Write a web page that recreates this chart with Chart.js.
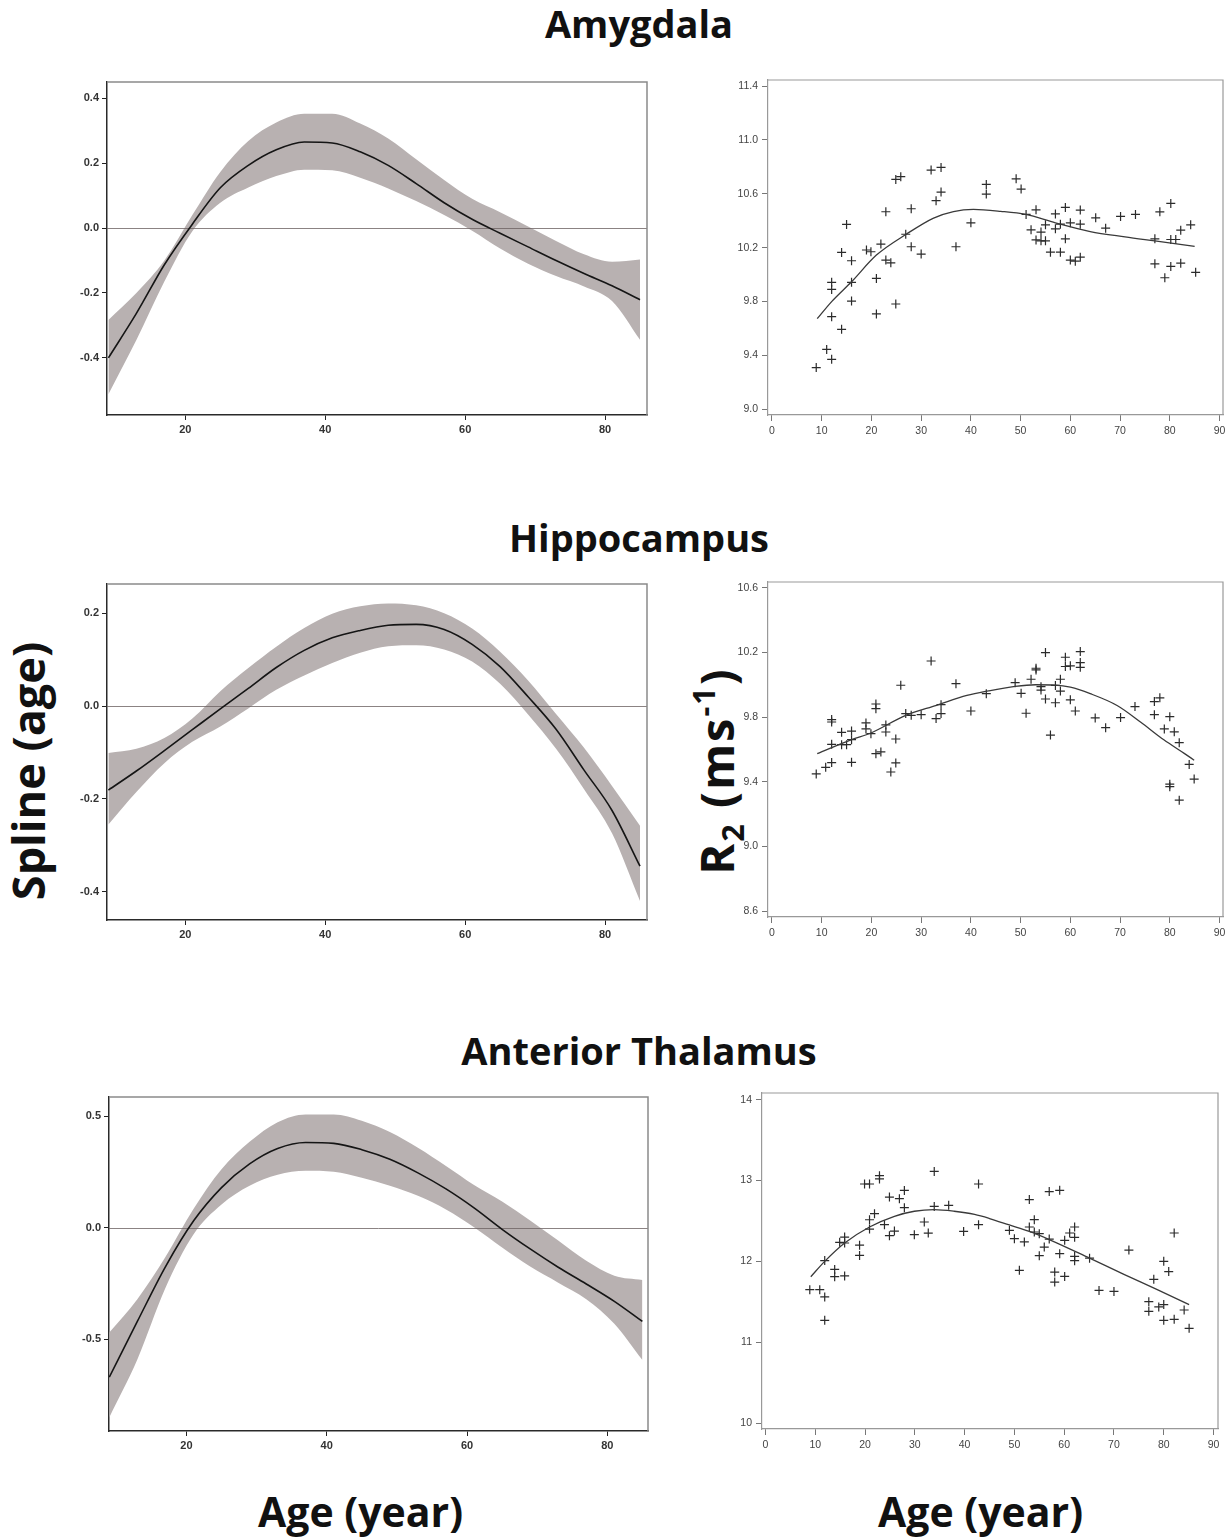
<!DOCTYPE html>
<html><head><meta charset="utf-8">
<script src="https://cdn.jsdelivr.net/npm/chart.js@4.4.1/dist/chart.umd.min.js"></script>
<style>
html,body{margin:0;padding:0;background:#fff;}
body{width:1230px;height:1538px;position:relative;overflow:hidden;font-family:"Open Sans",sans-serif;color:#111;}
.ttl{position:absolute;left:24px;width:1230px;text-align:center;font-weight:700;font-size:38px;line-height:1;white-space:nowrap;}
.big{position:absolute;font-weight:700;font-size:41px;line-height:1;white-space:nowrap;}
.rot{position:absolute;font-weight:700;line-height:1;white-space:nowrap;transform:translate(-50%,-50%) rotate(-90deg);}
canvas{position:absolute;}
</style></head>
<body>
<div class="ttl" style="top:4px">Amygdala</div>
<div class="ttl" style="top:518px">Hippocampus</div>
<div class="ttl" style="top:1031px">Anterior Thalamus</div>
<div class="rot" style="left:27px;top:771px;font-size:45px">Spline (age)</div>
<div class="rot" style="left:716px;top:771px;font-size:47px;letter-spacing:2px">R<span style="font-size:0.65em;position:relative;top:0.32em">2</span> (ms<span style="font-size:0.65em;position:relative;top:-0.62em">-1</span>)</div>
<div class="big" style="left:258px;top:1491px">Age (year)</div>
<div class="big" style="left:878px;top:1491px">Age (year)</div>
<script>
// ---------- DATA ----------
const splineAges = [9,13,17,21,25,29,33,37,41,45,49,53,57,61,65,69,73,77,81,85];
const splineXTicks = [20,40,60,80];

const amySplineFit   = [-0.40,-0.263,-0.113,0.012,0.124,0.193,0.241,0.265,0.262,0.235,0.193,0.137,0.078,0.027,-0.016,-0.058,-0.100,-0.140,-0.178,-0.221];
const amySplineUpper = [-0.283,-0.200,-0.100,0.040,0.173,0.268,0.325,0.352,0.352,0.322,0.276,0.212,0.148,0.090,0.049,0.005,-0.040,-0.081,-0.104,-0.097];
const amySplineLower = [-0.512,-0.345,-0.165,-0.010,0.078,0.125,0.160,0.180,0.178,0.155,0.122,0.083,0.040,-0.008,-0.063,-0.110,-0.148,-0.180,-0.225,-0.344];
const amySplineYTicks = [-0.4,-0.2,0.0,0.2,0.4];

const hipSplineFit   = [-0.181,-0.140,-0.096,-0.051,-0.006,0.038,0.083,0.120,0.147,0.163,0.174,0.176,0.165,0.133,0.085,0.020,-0.050,-0.138,-0.225,-0.345];
const hipSplineUpper = [-0.101,-0.092,-0.069,-0.027,0.032,0.082,0.128,0.168,0.199,0.215,0.221,0.217,0.200,0.167,0.117,0.055,-0.017,-0.090,-0.172,-0.258];
const hipSplineLower = [-0.255,-0.185,-0.123,-0.077,-0.044,-0.005,0.035,0.066,0.093,0.115,0.129,0.131,0.122,0.096,0.048,-0.018,-0.092,-0.179,-0.274,-0.420];
const hipSplineYTicks = [-0.4,-0.2,0.0,0.2];

const thaSplineFit   = [-0.67,-0.42,-0.175,0.030,0.180,0.286,0.355,0.382,0.378,0.350,0.307,0.246,0.174,0.089,-0.007,-0.095,-0.177,-0.252,-0.330,-0.420];
const thaSplineUpper = [-0.47,-0.32,-0.131,0.084,0.262,0.385,0.473,0.508,0.508,0.480,0.429,0.359,0.277,0.192,0.118,0.033,-0.057,-0.148,-0.215,-0.234];
const thaSplineLower = [-0.85,-0.59,-0.270,-0.030,0.104,0.188,0.237,0.255,0.251,0.224,0.188,0.143,0.082,0.002,-0.089,-0.174,-0.246,-0.320,-0.430,-0.593];
const thaSplineYTicks = [-0.5,0.0,0.5];

const r2XTicks = [0,10,20,30,40,50,60,70,80,90];

const amyAge = [8.9,11,12,12,12,12,14,14,15,16,16,16,19,19.9,21,21,21.9,22.9,22.9,23.9,24.9,24.9,25.9,26.9,28,28,30,32,33,34,34,37,40,43.1,43.1,
  49.1,50.1,51.1,53.1,52.1,53.1,54.1,54.1,55,55,56,57,57,58,58,59,59,60,60,61,62,62,62,65.1,67.1,70.1,73.1,77,77,78,79,80.2,80.2,81.2,80.2,82.2,82.2,84.2,85.2];
const amyR2 = [9.31,9.445,9.371,9.688,9.89,9.943,9.594,10.165,10.373,9.804,9.943,10.103,10.183,10.17,9.972,9.708,10.227,10.467,10.108,10.088,9.782,10.707,10.727,10.30,10.489,10.207,10.153,10.776,10.549,10.613,10.796,10.207,10.385,10.67,10.598,
  10.711,10.635,10.447,10.481,10.333,10.258,10.316,10.251,10.251,10.37,10.167,10.451,10.34,10.375,10.167,10.499,10.266,10.385,10.108,10.10,10.13,10.479,10.375,10.422,10.345,10.432,10.447,10.266,10.08,10.466,9.977,10.529,10.261,10.261,10.061,10.085,10.33,10.37,10.017];
const amyFitAge = [9.1,12,16,21,27,32.5,36.5,40.5,46,51,57,64,71,77,85];
const amyFitR2  = [9.673,9.80,9.947,10.145,10.30,10.42,10.468,10.484,10.47,10.447,10.385,10.32,10.28,10.25,10.21];
const amyR2YTicks = [9.0,9.4,9.8,10.2,10.6,11.0,11.4];

const hipAge = [8.9,10.8,12,12,12,12,14,14,15,16,16,16,18.9,18.9,19.9,20.9,20.9,20.9,21.9,22.9,22.9,23.9,24.9,24.9,25.9,26.9,28,30,32,33,34,34,37,40,43.1,
  48.9,50.1,51.1,52.1,53.1,53.1,54.1,54.1,55,55,56,57,57,58,58,59,59,60,60,61,62,62,62,65,67.1,70.1,73,76.9,76.9,78,78.9,80,80,80,80.9,81.9,81.9,83.9,84.9];
const hipR2 = [9.449,9.49,9.519,9.632,9.785,9.77,9.706,9.63,9.63,9.521,9.661,9.714,9.764,9.727,9.698,9.574,9.852,9.881,9.585,9.708,9.752,9.461,9.517,9.665,9.997,9.822,9.811,9.815,10.147,9.791,9.822,9.877,10.007,9.838,9.945,
  10.013,9.947,9.824,10.034,10.102,10.092,9.988,9.967,10.199,9.912,9.689,9.889,9.996,10.034,9.961,10.17,10.113,10.117,9.907,9.838,10.205,10.137,10.108,9.795,9.735,9.797,9.865,9.896,9.815,9.919,9.727,9.803,9.386,9.37,9.709,9.642,9.287,9.508,9.417];
const hipFitAge = [9.1,16,19.9,26.9,33.1,39.2,43.5,48.9,53,57,60,64,69.4,74.1,78.8,82.9,84.9];
const hipFitR2  = [9.574,9.661,9.702,9.811,9.873,9.934,9.962,9.99,10.0,9.998,9.985,9.945,9.872,9.77,9.66,9.576,9.534];
const hipR2YTicks = [8.6,9.0,9.4,9.8,10.2,10.6];

const thaAge = [8.9,10.9,11.9,11.9,11.9,13.9,13.9,14.9,15.9,15.9,15.9,18.9,18.9,19.9,20.9,20.9,20.9,21.9,22.9,22.9,23.9,24.9,24.9,25.9,26.9,27.9,27.9,29.9,31.9,32.7,33.9,33.9,36.8,39.8,42.8,42.8,
  49,50,51,52,53,53,54,54,55,55,56,57,57,58.1,58.1,59.1,59.1,60.1,60.1,61.1,62.1,62.1,62.1,62.1,65.1,67,70,73,77,77,78,79,80,80,80,81,82.1,82.1,84.1,85.1];
const thaR2 = [11.65,11.65,12.01,11.56,11.27,11.90,11.81,12.235,12.30,12.227,11.82,12.20,12.074,12.957,12.957,12.40,12.515,12.59,13.06,13.02,12.454,12.796,12.318,12.375,12.775,12.878,12.664,12.33,12.487,12.35,13.113,12.68,12.693,12.371,12.957,12.454,
  12.384,12.281,11.889,12.24,12.764,12.425,12.516,12.363,12.342,12.07,12.177,12.863,12.276,11.868,11.744,12.879,12.095,12.26,11.814,12.351,12.425,12.297,12.062,12.008,12.04,11.641,11.628,12.14,11.501,11.382,11.778,11.436,11.465,12.0,11.271,11.874,11.283,12.351,11.398,11.172];
const thaFitAge = [9.1,11.9,15.9,20.9,25.9,29.9,33.9,37.9,42,45,49,53,57,65.1,72,78.7,85.1];
const thaFitR2  = [11.81,12.0,12.227,12.425,12.557,12.62,12.64,12.62,12.58,12.53,12.45,12.37,12.27,12.04,11.84,11.65,11.465];
const thaR2YTicks = [10,11,12,13,14];

// ---------- RENDERING ----------
const PL = 62, PT = 12, PR = 12, PB = 40;
const BAND = 'rgb(184,177,177)';
const pts = (xs, ys) => xs.map((x, i) => ({x: x, y: ys[i]}));

const framePlugin = {
  id: 'frame',
  afterDatasetsDraw(chart, args, o) {
    const ctx = chart.ctx, a = chart.chartArea;
    ctx.save();
    ctx.strokeStyle = o.color; ctx.lineWidth = o.width;
    ctx.beginPath();
    ctx.moveTo(a.left, a.top); ctx.lineTo(a.right, a.top); ctx.lineTo(a.right, a.bottom);
    ctx.stroke();
    ctx.restore();
  },
  beforeDatasetDraw(chart, args, o) {
    // reference line at y = 0, drawn just before the fitted curve (dataset 0)
    if (!o.zero || args.index !== 0) return;
    const ctx = chart.ctx, a = chart.chartArea;
    const y = Math.round(chart.scales.y.getPixelForValue(0)) + 0.5;
    ctx.save();
    ctx.strokeStyle = o.zeroColor; ctx.lineWidth = 1;
    ctx.beginPath(); ctx.moveTo(a.left, y); ctx.lineTo(a.right, y); ctx.stroke();
    ctx.restore();
  }
};

function makeCanvas(box) {
  const W = box.r - box.l + PL + PR, H = box.b - box.t + PT + PB;
  const c = document.createElement('canvas');
  c.width = W; c.height = H;
  c.style.left = (box.l - PL) + 'px'; c.style.top = (box.t - PT) + 'px';
  c.style.width = W + 'px'; c.style.height = H + 'px';
  document.body.appendChild(c);
  return c;
}

function axis(min, max, tickVals, fmt, isX, st) {
  return {
    type: 'linear', min: min, max: max,
    afterFit(s) { if (isX) s.height = PB; else s.width = PL; },
    afterBuildTicks(s) { s.ticks = tickVals.map(v => ({value: v})); },
    grid: {drawOnChartArea: false, drawTicks: true, tickLength: st.tickLen, color: st.tickColor, lineWidth: 1},
    border: {display: true, color: st.axisColor, width: st.axisWidth},
    ticks: {autoSkip: false, maxRotation: 0, padding: st.pad, color: st.labelColor,
            font: {family: 'Liberation Sans, Arial, sans-serif', size: st.fontSize, weight: st.weight},
            callback: v => fmt(v)}
  };
}

const splineStyle = {tickLen: 5, tickColor: '#222', axisColor: '#2a2a2a', axisWidth: 1.5, pad: 3, labelColor: '#333', fontSize: 11, weight: 'bold'};
const scatStyle   = {tickLen: 6, tickColor: '#777', axisColor: '#999', axisWidth: 1.2, pad: 4, labelColor: '#444', fontSize: 10.5, weight: 'normal'};

function splinePanel(box, xr, yr, yTicks, fit, up, lo) {
  new Chart(makeCanvas(box), {
    type: 'line',
    data: {datasets: [
      {data: pts(splineAges, fit), borderColor: '#151515', borderWidth: 1.6, pointRadius: 0, fill: false, cubicInterpolationMode: 'monotone'},
      {data: pts(splineAges, up), borderColor: 'rgba(0,0,0,0)', borderWidth: 1, pointRadius: 0, fill: '+1', backgroundColor: BAND, cubicInterpolationMode: 'monotone'},
      {data: pts(splineAges, lo), borderColor: 'rgba(0,0,0,0)', borderWidth: 1, pointRadius: 0, fill: false, cubicInterpolationMode: 'monotone'}
    ]},
    options: {
      responsive: false, animation: false, devicePixelRatio: 1,
      layout: {padding: {left: 0, top: PT, right: PR, bottom: 0}},
      plugins: {legend: {display: false}, tooltip: {enabled: false},
                frame: {color: '#8a8a8a', width: 1.5, zero: true, zeroColor: 'rgba(110,100,100,0.8)'}},
      scales: {
        x: axis(xr[0], xr[1], splineXTicks, v => String(v), true, splineStyle),
        y: axis(yr[0], yr[1], yTicks, v => v.toFixed(1), false, splineStyle)
      }
    },
    plugins: [framePlugin]
  });
}

function scatterPanel(box, xr, yr, yTicks, fmtY, ages, vals, fitAges, fitVals) {
  new Chart(makeCanvas(box), {
    type: 'scatter',
    data: {datasets: [
      {type: 'line', data: pts(fitAges, fitVals), borderColor: '#3a3a3a', borderWidth: 1.3, pointRadius: 0, fill: false, cubicInterpolationMode: 'monotone'},
      {data: pts(ages, vals), pointStyle: 'cross', pointRadius: 4.5, borderColor: '#2b2b2b', borderWidth: 1.2, backgroundColor: '#2b2b2b'}
    ]},
    options: {
      responsive: false, animation: false, devicePixelRatio: 1,
      layout: {padding: {left: 0, top: PT, right: PR, bottom: 0}},
      plugins: {legend: {display: false}, tooltip: {enabled: false},
                frame: {color: '#9a9a9a', width: 1.2, zero: false}},
      scales: {
        x: axis(xr[0], xr[1], r2XTicks, v => String(v), true, scatStyle),
        y: axis(yr[0], yr[1], yTicks, fmtY, false, scatStyle)
      }
    },
    plugins: [framePlugin]
  });
}

splinePanel({l: 107, t: 82,   r: 647, b: 415},  [8.8, 86.0], [-0.576, 0.45],  amySplineYTicks, amySplineFit, amySplineUpper, amySplineLower);
splinePanel({l: 107, t: 584,  r: 647, b: 920},  [8.8, 86.0], [-0.461, 0.263], hipSplineYTicks, hipSplineFit, hipSplineUpper, hipSplineLower);
splinePanel({l: 109, t: 1097, r: 648, b: 1431}, [8.96, 85.8], [-0.911, 0.586], thaSplineYTicks, thaSplineFit, thaSplineUpper, thaSplineLower);

scatterPanel({l: 768, t: 80,   r: 1223, b: 415},  [-0.8, 90.7], [8.958, 11.445], amyR2YTicks, v => v.toFixed(1), amyAge, amyR2, amyFitAge, amyFitR2);
scatterPanel({l: 768, t: 582,  r: 1223, b: 917},  [-0.8, 90.7], [8.565, 10.635], hipR2YTicks, v => v.toFixed(1), hipAge, hipR2, hipFitAge, hipFitR2);
scatterPanel({l: 762, t: 1093, r: 1218, b: 1429}, [-0.7, 90.9], [9.926, 14.083], thaR2YTicks, v => String(v), thaAge, thaR2, thaFitAge, thaFitR2);
</script>
</body></html>
